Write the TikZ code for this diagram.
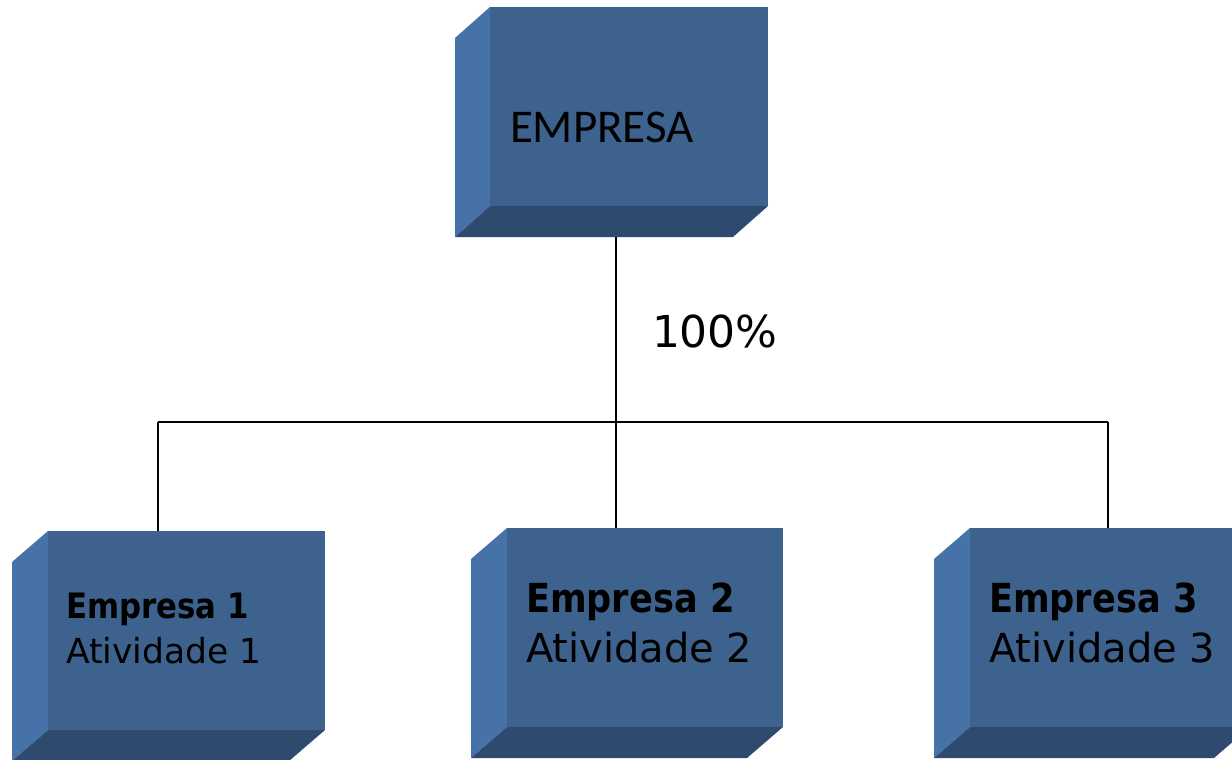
\documentclass[tikz,border=0pt]{standalone}
\usepackage{fontspec}
\setmainfont{DejaVu Sans}
\newfontfamily\capfont{Carlito}
\newfontfamily\narrowbold{DejaVu Sans}[FakeStretch=0.88]
\usetikzlibrary{calc}

\definecolor{facefront}{RGB}{61,98,142}
\definecolor{faceside}{RGB}{70,114,168}
\definecolor{facebase}{RGB}{46,74,110}

% Bevelled block: side and base faces around the outer node #1,
% #2 = horizontal bevel depth, #3 = vertical bevel depth
\newcommand\bevelblock[3]{%
  \fill[faceside] ($(#1.north west)+(0,#3)$) -- ($(#1.north west)+(#2,0)$)
    -- ($(#1.south west)+(#2,-#3)$) -- (#1.south west) -- cycle;
  \fill[facebase] (#1.south west) -- ($(#1.south west)+(#2,-#3)$)
    -- ($(#1.south east)+(0,-#3)$) -- ($(#1.south east)+(-#2,0)$) -- cycle;
  \fill[facefront] ($(#1.north west)+(#2,0)$) rectangle ($(#1.south east)+(0,-#3)$);
}

\begin{document}
\begin{tikzpicture}[x=1pt,y=-1pt,
  hull/.style={inner sep=0pt, outer sep=0pt, draw=none},
  label/.style={anchor=base west, inner sep=0pt, outer sep=0pt, text=black},
  wire/.style={draw=black, line width=1.5pt}]
\useasboundingbox (0,0) rectangle (1232,760);
\clip (0,0) rectangle (1232,760);

% outer extents of the four blocks
\node[hull, minimum width=313pt, minimum height=230pt] (top) at (611.5,122) {};
\node[hull, minimum width=313pt, minimum height=230pt] (b1) at (168.5,646) {};
\node[hull, minimum width=312pt, minimum height=230pt] (b2) at (627,643) {};
\node[hull, minimum width=316pt, minimum height=230pt] (b3) at (1092,643) {};

\bevelblock{top}{35}{31}
\bevelblock{b1}{36}{31}
\bevelblock{b2}{36}{31}
\bevelblock{b3}{36}{31}

% texts
\node[label, font=\capfont\fontsize{47}{50}\selectfont] (t0) at (510,142) {EMPRESA};
\node[label, font=\fontsize{44}{48}\selectfont] (pct) at (652,347) {100\%};
\node[label, font=\narrowbold\bfseries\fontsize{35}{38}\selectfont] (e1) at (66,618) {Empresa 1};
\node[label, font=\fontsize{34.5}{38}\selectfont] (a1) at (66,663) {Atividade 1};
\node[label, font=\narrowbold\bfseries\fontsize{40}{44}\selectfont] (e2) at (526,612) {Empresa 2};
\node[label, font=\fontsize{40}{44}\selectfont] (a2) at (526,662) {Atividade 2};
\node[label, font=\narrowbold\bfseries\fontsize{40}{44}\selectfont] (e3) at (989,612) {Empresa 3};
\node[label, font=\fontsize{40}{44}\selectfont] (a3) at (989,662) {Atividade 3};

% connectors
\coordinate (hub) at (616,422);
\coordinate (jl) at (158,422);
\coordinate (jr) at (1108,422);
\draw[wire] (top.south -| hub) -- (hub);
\draw[wire] (jl) -- (jr);
\draw[wire] (jl) -- (jl |- b1.north);
\draw[wire] (hub) -- (hub |- b2.north);
\draw[wire] (jr) -- (jr |- b3.north);
\end{tikzpicture}
\end{document}
